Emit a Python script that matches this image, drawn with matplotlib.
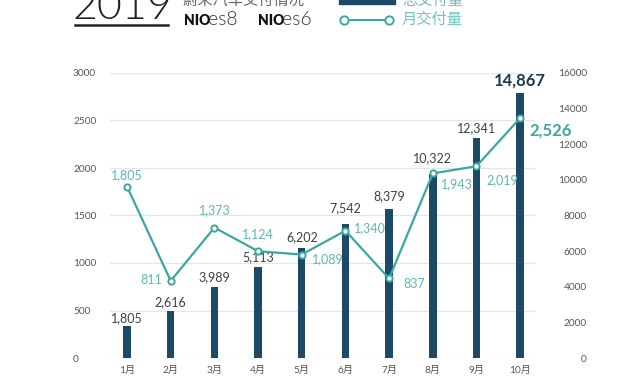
import matplotlib
matplotlib.use("Agg")
import matplotlib.pyplot as plt
from matplotlib.lines import Line2D
from matplotlib.patches import Rectangle

plt.rcParams['font.family'] = ['Lato', 'Noto Sans CJK SC', 'DejaVu Sans']

# data
months = ['1月', '2月', '3月', '4月', '5月', '6月', '7月', '8月', '9月', '10月']
cumulative = [1805, 2616, 3989, 5113, 6202, 7542, 8379, 10322, 12341, 14867]
monthly = [1805, 811, 1373, 1124, 1089, 1340, 837, 1943, 2019, 2526]
left_ticks = [0, 500, 1000, 1500, 2000, 2500, 3000]
right_ticks = [0, 2000, 4000, 6000, 8000, 10000, 12000, 14000, 16000]

navy = '#1c4a66'
teal = '#3aa8a2'
teal_txt = '#5cb8b2'
grey = '#555555'

W, H = 640, 379
fig = plt.figure(figsize=(6.4, 3.79), dpi=100)
fig.patch.set_facecolor('white')

def fx(x):
    return x / W

def fy(y):
    return 1 - y / H

ax = fig.add_axes([fx(110), fy(358), fx(535) - fx(110), fy(73) - fy(358)])
ax2 = ax.twinx()
# bars behind the line
ax2.set_zorder(1)
ax.set_zorder(2)
ax.patch.set_visible(False)

x = list(range(len(months)))
ax2.bar(x, cumulative, width=0.17, color=navy, zorder=2)
ax.plot(x, monthly, color=teal, lw=1.6, marker='o', markersize=4.5,
        markerfacecolor='white', markeredgecolor=teal, markeredgewidth=1.4, zorder=3)

ax.set_xlim(-0.39, 9.34)
ax.set_ylim(0, 3000)
ax2.set_ylim(0, 16000)
ax.set_yticks(left_ticks)
ax2.set_yticks(right_ticks)
ax.set_xticks(x)
ax.set_xticklabels(months)
ax2.grid(False)
for v in left_ticks:
    ax2.axhline(v / 3000 * 16000, color='#e6e6e6', lw=1, zorder=0)

for a in (ax, ax2):
    for s in a.spines.values():
        s.set_visible(False)
ax.tick_params(axis='both', length=0, colors=grey, labelsize=7.3)
ax.tick_params(axis='y', pad=26.6)
ax.tick_params(axis='x', pad=5.5)
for t in ax.get_yticklabels():
    t.set_ha('left')
ax2.tick_params(axis='y', length=0, colors=grey, labelsize=7.3, pad=37.4)
for t in ax2.get_yticklabels():
    t.set_ha('right')

# bar labels (offsets in points above bar top)
bar_gap = [1.5, 2, 3, 3, 3, 7, 4.5, 7, 3, 3]
for i, v in enumerate(cumulative):
    last = i == len(cumulative) - 1
    ax2.annotate(f'{v:,}', (i, v), xytext=(0, bar_gap[i]), textcoords='offset points',
                 ha='center', va='bottom',
                 fontsize=12 if last else 9,
                 fontweight='bold' if last else 'normal',
                 color='#1d3a4c' if last else '#3a4248')

# line labels (offsets in points, alignment)
line_off = [(0, 4, 'center', 'bottom'), (-6, 1, 'right', 'center'),
            (0, 8, 'center', 'bottom'), (0, 8, 'center', 'bottom'),
            (7, -3, 'left', 'center'), (6, 2, 'left', 'center'),
            (10, -4, 'left', 'center'), (6, -8, 'left', 'center'),
            (7, -10, 'left', 'center'), (7, -9, 'left', 'center')]
for i, v in enumerate(monthly):
    dx, dy, ha, va = line_off[i]
    last = i == len(monthly) - 1
    ax.annotate(f'{v:,}', (i, v), xytext=(dx, dy), textcoords='offset points',
                ha=ha, va=va, fontsize=12 if last else 9,
                fontweight='bold' if last else 'normal',
                color=teal if last else teal_txt, zorder=5)

# header (top of picture is cropped in the original)
fig.text(fx(73), fy(19), '2019', fontsize=31, fontweight=300, color='#222222',
         ha='left', va='baseline')
fig.add_artist(Line2D([fx(75), fx(168)], [fy(25), fy(25)], color='#222222', lw=1.8))
fig.text(fx(183), fy(5), '蔚来汽车交付情况', fontsize=11, color='#666666',
         ha='left', va='baseline')
fig.text(fx(184), fy(25), 'NIO', fontsize=10, fontweight='heavy', color='#111111',
         ha='left', va='baseline')
fig.text(fx(208), fy(25), 'es8', fontsize=14, fontweight=300, color='#333333',
         ha='left', va='baseline')
fig.text(fx(258), fy(25), 'NIO', fontsize=10, fontweight='heavy', color='#111111',
         ha='left', va='baseline')
fig.text(fx(282), fy(25), 'es6', fontsize=14, fontweight=300, color='#333333',
         ha='left', va='baseline')

fig.add_artist(Rectangle((fx(339), fy(4)), fx(395) - fx(339), fy(-10) - fy(4),
                         transform=fig.transFigure, color=navy))
fig.text(fx(402), fy(5), '总交付量', fontsize=11, color='#7ab8b8',
         ha='left', va='baseline')
fig.add_artist(Line2D([fx(344), fx(389)], [fy(20), fy(20)], color=teal, lw=1.5,
                      marker='o', markersize=6, markerfacecolor='white',
                      markeredgecolor=teal, markeredgewidth=1.4))
fig.text(fx(402), fy(20), '月交付量', fontsize=11, color='#6cc5c0',
         ha='left', va='center')

fig.savefig('out.png', dpi=100)
